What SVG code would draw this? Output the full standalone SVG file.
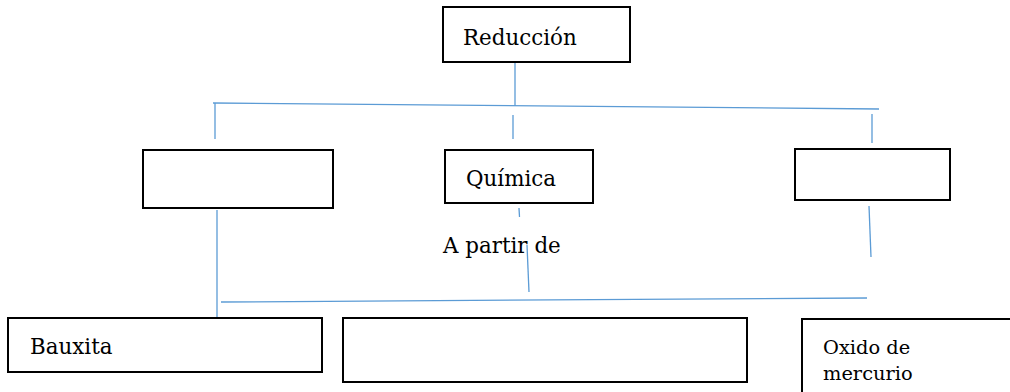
<svg xmlns="http://www.w3.org/2000/svg" width="1010" height="392" viewBox="0 0 1010 392">
<style>
.box{fill:#fff;stroke:#000;stroke-width:2}
.t{font-family:'DejaVu Serif','Liberation Serif',serif;font-size:21.4px;fill:#000}
.s{font-size:19.4px}
.c line{stroke:#5b9bd5;stroke-width:1.3}
</style>
<rect width="1010" height="392" fill="#fff"/>
<g class="c" id="connectors">
<line x1="515" y1="62" x2="515" y2="106"/>
<line x1="213" y1="103" x2="879" y2="109"/>
<line x1="215" y1="103" x2="215" y2="139"/>
<line x1="513" y1="115" x2="513" y2="139"/>
<line x1="872" y1="114" x2="872" y2="143"/>
<line x1="217" y1="210" x2="217" y2="317"/>
<line x1="519" y1="208" x2="519.5" y2="217"/>
<line x1="527" y1="245" x2="529" y2="292"/>
<line x1="869" y1="206" x2="871" y2="257"/>
<line x1="221" y1="302" x2="867" y2="298"/>
</g>
<g id="reduccion"><rect class="box" x="443" y="7" width="187" height="55"/><text class="t" x="463" y="45">Reducción</text></g>
<g id="left-mid"><rect class="box" x="143" y="150" width="190" height="58"/></g>
<g id="quimica"><rect class="box" x="445" y="150" width="148" height="53"/><text class="t" x="466" y="186">Química</text></g>
<g id="right-mid"><rect class="box" x="795" y="149" width="155" height="51"/></g>
<g id="apartir"><text class="t" x="443" y="253">A partir de</text></g>
<g id="bauxita"><rect class="box" x="8" y="318" width="314" height="54"/><text class="t" x="30" y="354">Bauxita</text></g>
<g id="mid-bottom"><rect class="box" x="343" y="318" width="404" height="64"/></g>
<g id="oxido"><rect class="box" x="802" y="319" width="230" height="100"/><text class="t s" x="823" y="354">Oxido de</text><text class="t s" x="823" y="380">mercurio</text></g>
</svg>
